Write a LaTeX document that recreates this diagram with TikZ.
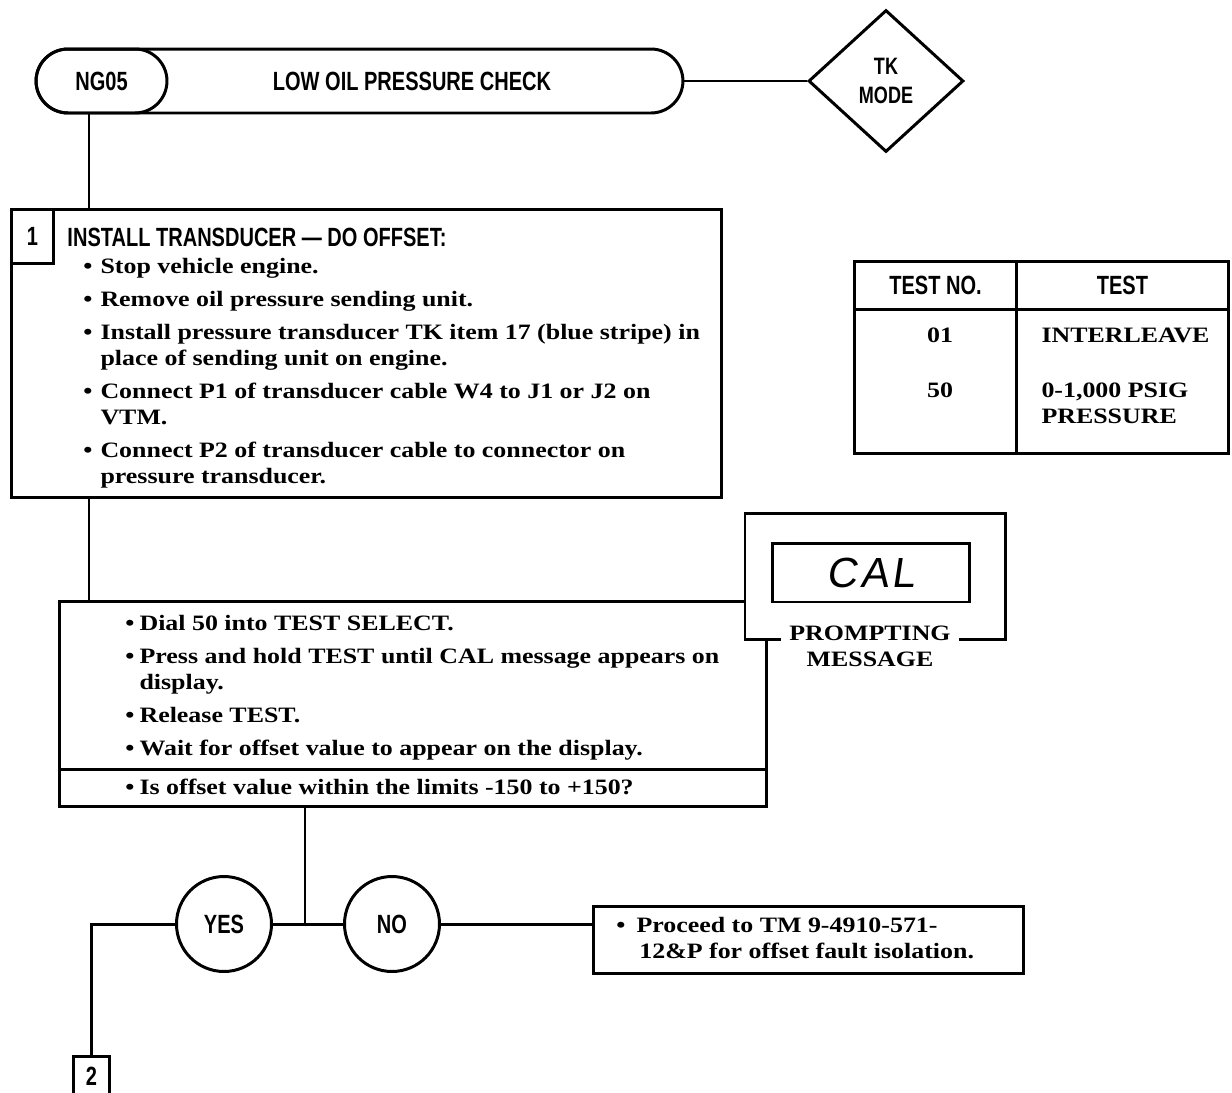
\documentclass[tikz,border=0pt]{standalone}
\usepackage{fontspec}
\setmainfont{Liberation Serif}
\newfontfamily\headfont{Liberation Sans}[FakeStretch=0.76]
\newfontfamily\bodyfont{Liberation Serif}[FakeStretch=1.18]
\newfontfamily\segfont{Liberation Sans}[FakeSlant=0.15,LetterSpace=8]
\usetikzlibrary{shapes.geometric,shapes.misc}
\newcommand{\bulA}{\makebox[9.7pt][l]{\textbullet}}
\newcommand{\gapA}{\hspace*{9.7pt}}
\newcommand{\bulB}{\makebox[8pt][l]{\textbullet}}
\newcommand{\gapB}{\hspace*{8pt}}
\newcommand{\bulC}{\makebox[11.4pt][l]{\textbullet}}
\newcommand{\gapC}{\hspace*{13pt}}

\begin{document}
\begin{tikzpicture}[x=0.02cm, y=-0.02cm,
    line width=1.7pt,
    box/.style={draw, rectangle, inner sep=0pt, anchor=north west},
    head/.style={font={\headfont\bfseries\fontsize{15}{17}\selectfont}},
    body/.style={font={\bodyfont\bfseries\fontsize{12.5}{14.8}\selectfont}, align=left, inner sep=0pt},
    ring/.style={draw, circle, minimum size=1.9cm, inner sep=0pt, head}
]
\useasboundingbox (0,0) rectangle (1232,1093);
\clip (0,0) rectangle (1232,1093);

% Header
\node[draw, rounded rectangle, minimum width=12.94cm, minimum height=1.28cm, inner sep=0pt] (title) at (359.5,81) {};
\node[draw, rounded rectangle, minimum width=2.62cm, minimum height=1.28cm, inner sep=0pt, head] (ng) at (101.5,81) {NG05};
\node[head] (ttl) at (412,81) {LOW OIL PRESSURE CHECK};
\node[draw, diamond, minimum width=3.1cm, minimum height=2.84cm, inner sep=0pt, align=center,
      font={\headfont\bfseries\fontsize{13.5}{16.5}\selectfont}] (mode) at (886,81) {TK\\MODE};
\draw (title.east) -- (mode.west);

% Step 1
\node[box, minimum width=14.2cm, minimum height=5.76cm] (step1) at (10,208) {};
\node[box, minimum width=0.84cm, minimum height=1.08cm, head] (n1) at (10,208) {1};
\node[head, anchor=west, inner sep=0pt] (h1) at (66,237) {INSTALL TRANSDUCER — DO OFFSET:};
\node[body, anchor=north west] (list1) at (82,257) {%
    \bulA Stop vehicle engine.\\[4pt]
    \bulA Remove oil pressure sending unit.\\[4pt]
    \bulA Install pressure transducer TK item 17 (blue stripe) in\\
    \gapA place of sending unit on engine.\\[4pt]
    \bulA Connect P1 of transducer cable W4 to J1 or J2 on\\
    \gapA VTM.\\[4pt]
    \bulA Connect P2 of transducer cable to connector on\\
    \gapA pressure transducer.};

% Test table
\node[box, minimum width=3.24cm, minimum height=0.96cm, head] (hno) at (853,260) {TEST NO.};
\node[box, minimum width=4.24cm, minimum height=0.96cm, head] (htest) at (1015,260) {TEST};
\node[box, minimum width=3.24cm, minimum height=2.88cm] (bno) at (853,308) {};
\node[box, minimum width=4.24cm, minimum height=2.88cm] (btest) at (1015,308) {};
\node[body] (v01) at (940,335) {01};
\node[body] (v50) at (940,390) {50};
\node[body, anchor=west] (t01) at (1040,335) {INTERLEAVE};
\node[body, anchor=west] (t50) at (1040,403) {0-1,000 PSIG\\PRESSURE};

% Step 2
\node[box, minimum width=14.14cm, minimum height=3.36cm] (step2) at (58,600) {};
\node[box, minimum width=14.14cm, minimum height=0.74cm] (ask) at (58,768) {};
\node[body, anchor=north west] (list2) at (124,614) {%
    \bulB Dial 50 into TEST SELECT.\\[4pt]
    \bulB Press and hold TEST until CAL message appears on\\
    \gapB display.\\[4pt]
    \bulB Release TEST.\\[4pt]
    \bulB Wait for offset value to appear on the display.};
\node[body, anchor=west] (q) at (124,787) {\bulB Is offset value within the limits -150 to +150?};

% Prompting message
\node[box, draw=none, fill=white, minimum width=5.16cm, minimum height=2.48cm] (prompt) at (745,513) {};
\node[draw, minimum width=3.96cm, minimum height=1.18cm, inner sep=0pt,
      font={\segfont\fontsize{24}{24}\selectfont}] (disp) at (871,572.5) {CAL};
\node[body, inner xsep=4pt, align=center] (plabel) at (870,646) {PROMPTING\\MESSAGE};
\draw (plabel.west |- prompt.south) -- (prompt.south west) -- (prompt.north west)
    -- (prompt.north east) -- (prompt.south east) -- (plabel.east |- prompt.south);

% Spine
\coordinate (spine) at (89,0);
\draw (ng.south -| spine) -- (step1.north -| spine);
\draw (step1.south -| spine) -- (step2.north -| spine);

% Decision
\node[ring] (yes) at (224,924) {YES};
\node[ring] (no) at (392,924) {NO};
\coordinate (fork) at (305,924);
\draw (ask.south -| fork) -- (fork);
\draw (yes) -- (no);
\node[box, minimum width=8.6cm, minimum height=1.34cm] (goto) at (592,905) {};
\node[body, anchor=west] (gototxt) at (615,938) {%
    \bulC Proceed to TM 9-4910-571-\\
    \gapC 12\&P for offset fault isolation.};
\draw (no.east) -- (no.east -| goto.west);
\node[box, minimum width=0.72cm, minimum height=0.8cm, head] (n2) at (72,1055) {2};
\draw (yes.west) -| (n2.north);
\end{tikzpicture}
\end{document}
